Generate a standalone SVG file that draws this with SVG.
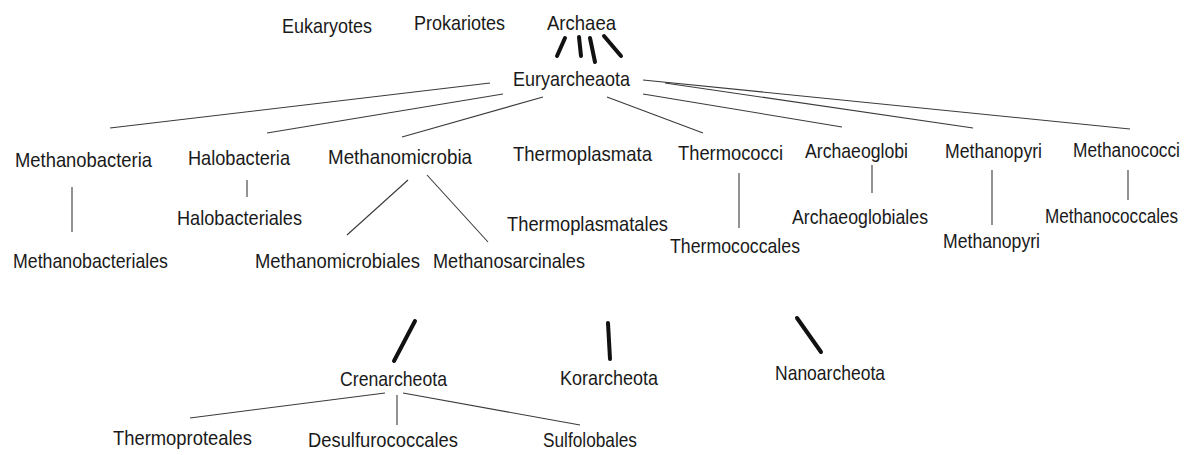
<svg xmlns="http://www.w3.org/2000/svg" width="1195" height="455" viewBox="0 0 1195 455">
<style>
text{font-family:"Liberation Sans",Arial,sans-serif;font-size:21px;fill:#1a1a1a}
.thin{stroke:#3a3a3a;stroke-width:1.1;fill:none}
.thick{stroke:#111;stroke-width:4;stroke-linecap:round;fill:none}
</style>
<rect width="1195" height="455" fill="#fff"/>
<g id="connectors">
<line class="thick" x1="565" y1="38" x2="557" y2="56"/>
<line class="thick" x1="579" y1="37" x2="581" y2="56"/>
<line class="thick" x1="590" y1="38" x2="595" y2="62"/>
<line class="thick" x1="604" y1="36" x2="621" y2="56"/>
<line class="thin" x1="490" y1="83" x2="110" y2="128"/>
<line class="thin" x1="503" y1="94" x2="267" y2="133"/>
<line class="thin" x1="543" y1="97" x2="402" y2="137"/>
<line class="thin" x1="607" y1="97" x2="703" y2="133"/>
<line class="thin" x1="643" y1="94" x2="842" y2="127"/>
<line class="thin" x1="665" y1="83" x2="973" y2="128"/>
<line class="thin" x1="643" y1="80" x2="1130" y2="129"/>
<line class="thin" x1="72" y1="187" x2="72" y2="232"/>
<line class="thin" x1="247" y1="180" x2="247" y2="197"/>
<line class="thin" x1="408" y1="180" x2="347" y2="235"/>
<line class="thin" x1="427" y1="175" x2="488" y2="242"/>
<line class="thin" x1="739" y1="173" x2="739" y2="228"/>
<line class="thin" x1="872" y1="165" x2="872" y2="193"/>
<line class="thin" x1="992" y1="170" x2="992" y2="225"/>
<line class="thin" x1="1128" y1="170" x2="1128" y2="200"/>
<line class="thick" x1="415" y1="321" x2="394" y2="361" stroke-width="4.5"/>
<line class="thick" x1="608" y1="323" x2="610" y2="359"/>
<line class="thick" x1="797" y1="318" x2="821" y2="352"/>
<line class="thin" x1="385" y1="393" x2="190" y2="418"/>
<line class="thin" x1="397" y1="395" x2="397" y2="425"/>
<line class="thin" x1="403" y1="393" x2="580" y2="425"/>
</g>
<g id="n-eukaryotes"><text x="282" y="33" textLength="90" lengthAdjust="spacingAndGlyphs">Eukaryotes</text></g>
<g id="n-prokariotes"><text x="414" y="30" textLength="91" lengthAdjust="spacingAndGlyphs">Prokariotes</text></g>
<g id="n-archaea"><text x="547" y="30" textLength="69" lengthAdjust="spacingAndGlyphs">Archaea</text></g>
<g id="n-euryarcheaota"><text x="513" y="86" textLength="117" lengthAdjust="spacingAndGlyphs">Euryarcheaota</text></g>
<g id="n-methanobacteria"><text x="15" y="167" textLength="137" lengthAdjust="spacingAndGlyphs">Methanobacteria</text></g>
<g id="n-halobacteria"><text x="188" y="165" textLength="102" lengthAdjust="spacingAndGlyphs">Halobacteria</text></g>
<g id="n-methanomicrobia"><text x="328" y="164" textLength="144" lengthAdjust="spacingAndGlyphs">Methanomicrobia</text></g>
<g id="n-thermoplasmata"><text x="513" y="161" textLength="139" lengthAdjust="spacingAndGlyphs">Thermoplasmata</text></g>
<g id="n-thermococci"><text x="678" y="160" textLength="105" lengthAdjust="spacingAndGlyphs">Thermococci</text></g>
<g id="n-archaeoglobi"><text x="805" y="158" textLength="103" lengthAdjust="spacingAndGlyphs">Archaeoglobi</text></g>
<g id="n-methanopyri"><text x="945" y="158" textLength="97" lengthAdjust="spacingAndGlyphs">Methanopyri</text></g>
<g id="n-methanococci"><text transform="translate(1073,157) scale(0.826,1)" x="0" y="0">Methanococci</text></g>
<g id="n-methanobacteriales"><text x="13" y="268" textLength="155" lengthAdjust="spacingAndGlyphs">Methanobacteriales</text></g>
<g id="n-halobacteriales"><text x="177" y="225" textLength="125" lengthAdjust="spacingAndGlyphs">Halobacteriales</text></g>
<g id="n-methanomicrobiales"><text x="255" y="268" textLength="165" lengthAdjust="spacingAndGlyphs">Methanomicrobiales</text></g>
<g id="n-methanosarcinales"><text x="433" y="268" textLength="152" lengthAdjust="spacingAndGlyphs">Methanosarcinales</text></g>
<g id="n-thermoplasmatales"><text x="507" y="231" textLength="161" lengthAdjust="spacingAndGlyphs">Thermoplasmatales</text></g>
<g id="n-thermococcales"><text x="670" y="253" textLength="130" lengthAdjust="spacingAndGlyphs">Thermococcales</text></g>
<g id="n-archaeoglobiales"><text x="792" y="224" textLength="136" lengthAdjust="spacingAndGlyphs">Archaeoglobiales</text></g>
<g id="n-methanopyri2"><text x="943" y="248" textLength="97" lengthAdjust="spacingAndGlyphs">Methanopyri</text></g>
<g id="n-methanococcales"><text transform="translate(1045,223) scale(0.815,1)" x="0" y="0">Methanococcales</text></g>
<g id="n-crenarcheota"><text x="340" y="386" textLength="107" lengthAdjust="spacingAndGlyphs">Crenarcheota</text></g>
<g id="n-korarcheota"><text x="560" y="385" textLength="98" lengthAdjust="spacingAndGlyphs">Korarcheota</text></g>
<g id="n-nanoarcheota"><text x="775" y="380" textLength="110" lengthAdjust="spacingAndGlyphs">Nanoarcheota</text></g>
<g id="n-thermoproteales"><text x="113" y="445" textLength="139" lengthAdjust="spacingAndGlyphs">Thermoproteales</text></g>
<g id="n-desulfurococcales"><text x="308" y="447" textLength="150" lengthAdjust="spacingAndGlyphs">Desulfurococcales</text></g>
<g id="n-sulfolobales"><text x="543" y="447" textLength="94" lengthAdjust="spacingAndGlyphs">Sulfolobales</text></g>
</svg>
